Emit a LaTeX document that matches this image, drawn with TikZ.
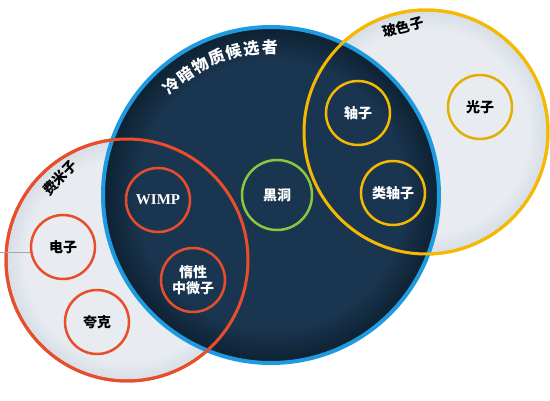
\documentclass[tikz,border=0pt]{standalone}
\usepackage{fontspec}
\setmainfont{Liberation Serif}
\newfontfamily\cjk{Noto Sans CJK SC}
\usetikzlibrary{positioning}
\definecolor{dmcore}{HTML}{1A3550}
\definecolor{dmedge}{HTML}{0D2131}
\definecolor{dmblue}{HTML}{1E9BE0}
\definecolor{fermired}{HTML}{E84E2C}
\definecolor{bosonyellow}{HTML}{F4B900}
\definecolor{photonyellow}{HTML}{E2B000}
\definecolor{bhgreen}{HTML}{8CC63F}
\definecolor{palegray}{HTML}{E8ECF1}
\definecolor{paleedge}{HTML}{D6DDE5}
\pgfdeclareradialshading{darkball}{\pgfpoint{0bp}{0bp}}{color(0bp)=(dmcore); color(20bp)=(dmcore); color(25bp)=(dmedge); color(50bp)=(dmedge)}
\pgfdeclareradialshading{paleball}{\pgfpoint{0bp}{0bp}}{color(0bp)=(palegray); color(21bp)=(palegray); color(25bp)=(paleedge); color(50bp)=(paleedge)}

\begin{document}
\begin{tikzpicture}[x=1pt,y=1pt,
  group/.style={circle, inner sep=0pt, shading=paleball},
  particle/.style={circle, draw, line width=2.5pt, minimum size=64pt, inner sep=0pt, align=center,
    font=\cjk\bfseries\fontsize{14}{16}\selectfont},
  ondark/.style={text=white},
  onpale/.style={text=black}]
\useasboundingbox (0,0) rectangle (550,400);
% the two families, pale discs first
\node[group, minimum size=242pt] (fermion) at (127,140) {};
\node[group, minimum size=244pt] (boson) at (426,268) {};
\draw[fermired, line width=3pt] (fermion.center) circle[radius=121];
\draw[bosonyellow, line width=3pt] (boson.center) circle[radius=122];
% cold dark matter candidates
\node[circle, inner sep=0pt, minimum size=336pt, shading=darkball] (dm) at (271,205) {};
\draw[dmblue, line width=4pt] (dm.center) circle[radius=168];
\draw[fermired, line width=3pt] (fermion.center) circle[radius=121];
\draw[bosonyellow, line width=3pt] (boson.center) circle[radius=122];
\foreach \ch [count=\i from 0] in {冷,暗,物,质,候,选,者}
  \node[rotate=42.5-7*\i, white, inner sep=0pt, font=\cjk\bfseries\fontsize{16}{18}\selectfont]
    at ([shift={(132.5-7*\i:148)}]dm.center) {\ch};
% group labels
\node[rotate=46, inner sep=0pt, font=\cjk\bfseries\fontsize{14}{16}\selectfont] (flabel) at (60,222) {费米子};
\node[rotate=15, inner sep=0pt, font=\cjk\bfseries\fontsize{14}{16}\selectfont] (blabel) at (403,373) {玻色子};
% particles
\node[particle, fermired, ondark, font=\bfseries\fontsize{15}{18}\selectfont] (wimp) at (158,200) {WIMP};
\node[particle, fermired, ondark] (sterile) at (193,120) {惰性\\中微子};
\node[particle, fermired, onpale] (electron) at (63,153) {电子};
\node[particle, fermired, onpale] (quark) at (97,78) {夸克};
\node[particle, bhgreen, ondark, minimum size=70pt] (hole) at (277,205) {黑洞};
\node[particle, bosonyellow, ondark] (axion) at (358,287) {轴子};
\node[particle, bosonyellow, ondark] (alp) at (393,207) {类轴子};
\node[particle, photonyellow, onpale] (photon) at (480,293) {光子};
% stray rule at the left edge
\coordinate (stub) at (0,148);
\coordinate (stubend) at (stub -| electron.west);
\draw[gray!70, line width=0.6pt] (stub) -- (stubend);
\end{tikzpicture}
\end{document}
